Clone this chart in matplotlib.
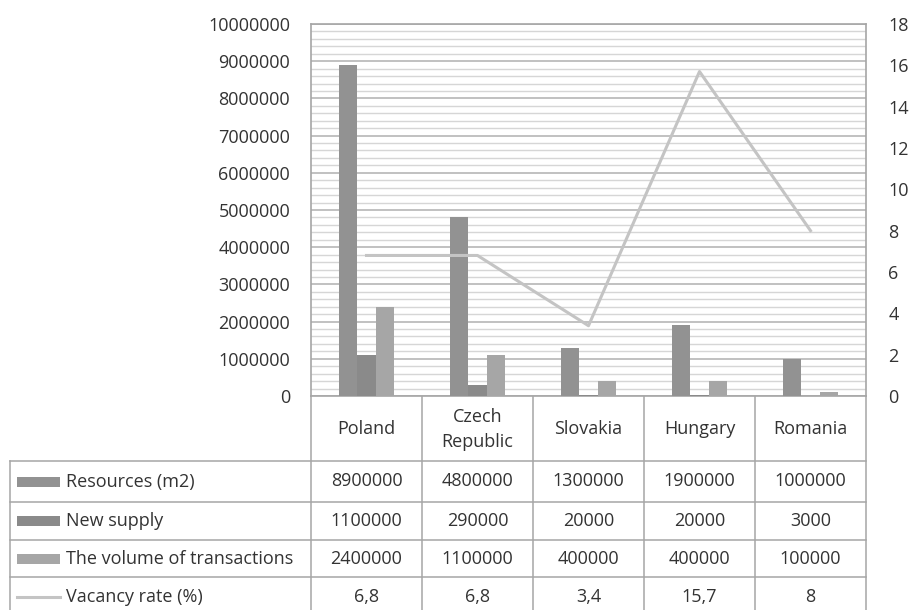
import matplotlib.pyplot as plt
import numpy as np
from matplotlib.patches import Rectangle

plt.rcParams['font.family'] = ['Open Sans', 'DejaVu Sans']

# data
countries = ['Poland', 'Czech\nRepublic', 'Slovakia', 'Hungary', 'Romania']
resources = [8900000, 4800000, 1300000, 1900000, 1000000]
new_supply = [1100000, 290000, 20000, 20000, 3000]
transactions = [2400000, 1100000, 400000, 400000, 100000]
vacancy = [6.8, 6.8, 3.4, 15.7, 8]
vacancy_labels = ['6,8', '6,8', '3,4', '15,7', '8']
series_names = ['Resources (m2)', 'New supply', 'The volume of transactions', 'Vacancy rate (%)']

bar_colors = ['#929292', '#8a8a8a', '#a6a6a6']
line_color = '#c4c4c4'
text_color = '#333333'
border = '#a6a6a6'
fs = 13

W, H = 914, 610
fig = plt.figure(figsize=(W / 100, H / 100), dpi=100)

# plot area in pixels
L, R, T, B = 311, 866, 24, 396
ax = fig.add_axes([L / W, 1 - B / H, (R - L) / W, (B - T) / H])
x = np.arange(len(countries))
bw = 1 / 6
for k, vals in enumerate([resources, new_supply, transactions]):
    ax.bar(x + (k - 1) * bw, vals, width=bw, color=bar_colors[k], zorder=3)
ax.set_xlim(-0.5, len(countries) - 0.5)
ax.set_ylim(0, 10000000)
ax.set_yticks(np.arange(0, 10000001, 1000000))
ax.set_yticklabels([str(v) for v in range(0, 10000001, 1000000)])
ax.set_yticks(np.arange(0, 10000001, 200000), minor=True)
ax.grid(True, which='major', axis='y', color='#b0b0b0', lw=1.1, zorder=0)
ax.grid(True, which='minor', axis='y', color='#d6d6d6', lw=1.0, zorder=0)
ax.set_xticks([])
ax.tick_params(axis='y', which='both', length=0, pad=15, labelsize=fs, labelcolor=text_color)
for s in ax.spines.values():
    s.set_color(border)
    s.set_linewidth(1.2)

ax2 = ax.twinx()
ax2.plot(x, vacancy, color=line_color, lw=2.2, zorder=4)
ax2.set_ylim(0, 18)
ax2.set_yticks(np.arange(0, 19, 2))
ax2.tick_params(axis='y', length=0, pad=16, labelsize=fs, labelcolor=text_color)
for s in ax2.spines.values():
    s.set_visible(False)

# data table below, drawn on an overlay axes in pixel coordinates
tab = fig.add_axes([0, 0, 1, 1], zorder=-1)
tab.set_xlim(0, W)
tab.set_ylim(H, 0)
tab.axis('off')

cw = (R - L) / len(countries)
row_edges = [B, 461, 502, 540, 577, 616]
col_edges = [L + i * cw for i in range(len(countries) + 1)]
left_x = 10

# horizontal lines
for y in row_edges[1:]:
    tab.plot([left_x, R], [y, y], color=border, lw=1.1)
# vertical lines
for cx in col_edges:
    tab.plot([cx, cx], [B, row_edges[-1]], color=border, lw=1.1)
tab.plot([left_x, left_x], [row_edges[1], row_edges[-1]], color=border, lw=1.1)

# header row
for i, c in enumerate(countries):
    tab.text(col_edges[i] + cw / 2, (row_edges[0] + row_edges[1]) / 2 + 1, c,
             ha='center', va='center', fontsize=fs, color=text_color, linespacing=1.55)

# body rows
rows = [[str(v) for v in resources], [str(v) for v in new_supply],
        [str(v) for v in transactions], vacancy_labels]
for r, vals in enumerate(rows):
    yc = (row_edges[r + 1] + row_edges[r + 2]) / 2
    if r < 3:
        tab.add_patch(Rectangle((17, yc - 5), 43, 10, color=bar_colors[r], lw=0))
    else:
        tab.plot([17, 60], [yc, yc], color=line_color, lw=2.2)
    tab.text(66, yc, series_names[r], ha='left', va='center', fontsize=fs, color=text_color)
    for i, v in enumerate(vals):
        tab.text(col_edges[i] + cw / 2, yc, v, ha='center', va='center',
                 fontsize=fs, color=text_color)

fig.savefig('out.png', dpi=100)
